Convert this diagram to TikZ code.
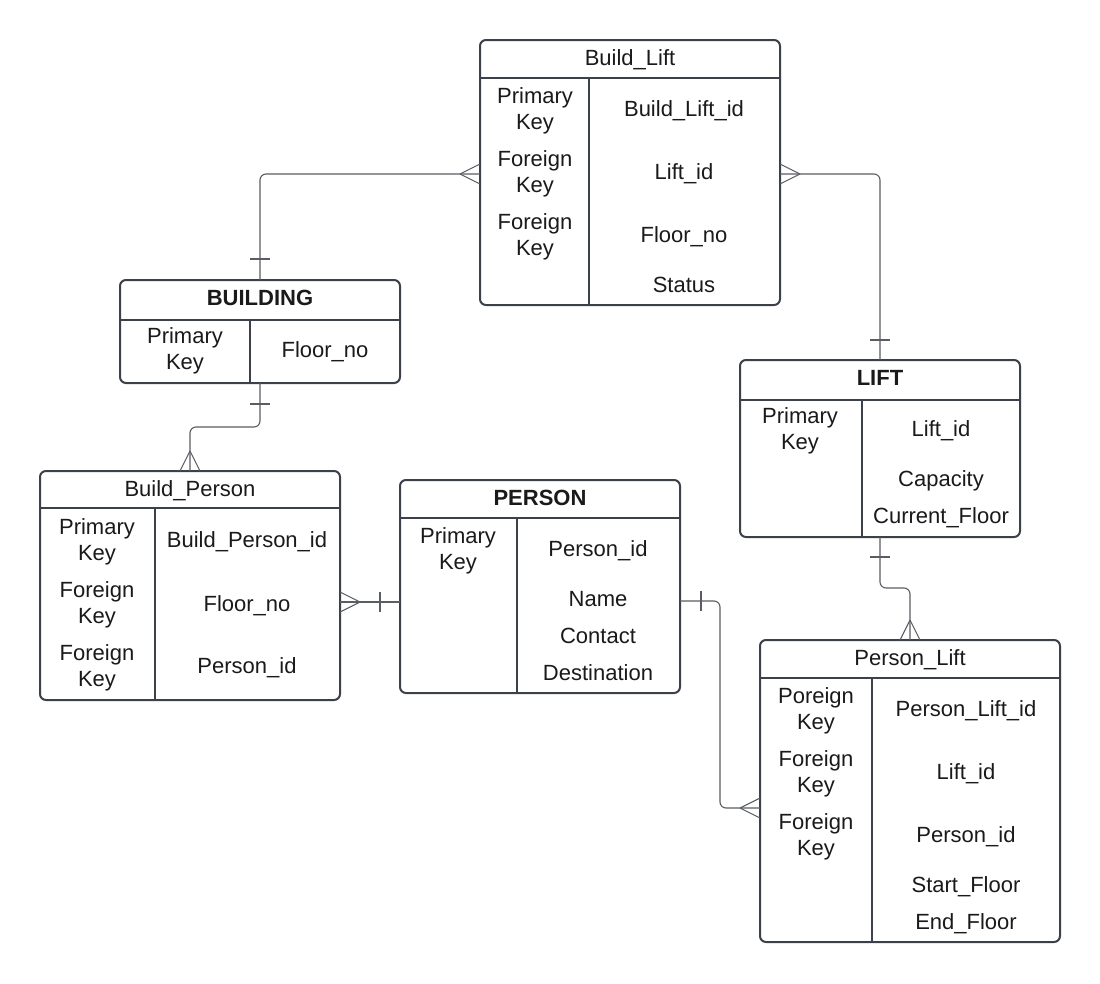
\documentclass[tikz,border=0pt]{standalone}
\usepackage{fontspec}
\setmainfont{Liberation Sans}
\usetikzlibrary{calc}
\definecolor{boxc}{HTML}{3C4048}
\definecolor{linec}{HTML}{5A5D63}
\definecolor{txtc}{HTML}{1A1A1A}
\begin{document}
\begin{tikzpicture}[x=1pt,y=-1pt,
  tbl/.style={draw=boxc, line width=2pt, rounded corners=6pt, inner sep=0pt, outer sep=0pt, fill=white},
  tline/.style={draw=boxc, line width=2pt},
  conn/.style={draw=linec, line width=1.1pt, rounded corners=6pt},
  mk/.style={draw=linec, line width=1.1pt},
  tx/.style={font=\fontsize{22}{26}\selectfont, text=txtc, inner sep=0pt, anchor=base},
  hb/.style={font=\fontsize{22}{26}\selectfont\bfseries, text=txtc, inner sep=0pt, anchor=base}]
\useasboundingbox[fill=white] (0,0) rectangle (1100,983);

% ---------- tables ----------
\node[tbl, minimum width=300pt, minimum height=265pt] (bl) at (630,172.5) {};
\draw[tline] (480,78) -- (780,78);
\draw[tline] (589,78) -- (589,305);

\node[tbl, minimum width=280pt, minimum height=103pt] (bld) at (260,331.5) {};
\draw[tline] (120,320) -- (400,320);
\draw[tline] (250,320) -- (250,383);

\node[tbl, minimum width=280pt, minimum height=177pt] (lift) at (880,448.5) {};
\draw[tline] (740,400) -- (1020,400);
\draw[tline] (862,400) -- (862,537);

\node[tbl, minimum width=300pt, minimum height=229pt] (bp) at (190,585.5) {};
\draw[tline] (40,508) -- (340,508);
\draw[tline] (155,508) -- (155,700);

\node[tbl, minimum width=280pt, minimum height=213pt] (ps) at (540,586.5) {};
\draw[tline] (400,518) -- (680,518);
\draw[tline] (517,518) -- (517,693);

\node[tbl, minimum width=300pt, minimum height=302pt] (pl) at (910,791) {};
\draw[tline] (760,678) -- (1060,678);
\draw[tline] (872,678) -- (872,942);

% ---------- texts ----------
% Build_Lift
\node[tx] (blh) at (630,65) {Build\_Lift};
\node[tx] (bl1a) at (535,103) {Primary};
\node[tx] (bl1b) at (535,129) {Key};
\node[tx] (bl2a) at (535,166) {Foreign};
\node[tx] (bl2b) at (535,192) {Key};
\node[tx] (bl3a) at (535,229) {Foreign};
\node[tx] (bl3b) at (535,255) {Key};
\node[tx] (bl1) at (684,116) {Build\_Lift\_id};
\node[tx] (bl2) at (684,179) {Lift\_id};
\node[tx] (bl3) at (684,242) {Floor\_no};
\node[tx] (bl4) at (684,292) {Status};
% BUILDING
\node[hb] (bldh) at (260,305) {BUILDING};
\node[tx] (bld1a) at (185,343) {Primary};
\node[tx] (bld1b) at (185,369) {Key};
\node[tx] (bld1) at (325,357) {Floor\_no};
% LIFT
\node[hb] (lifth) at (880,385) {LIFT};
\node[tx] (lift1a) at (800,423) {Primary};
\node[tx] (lift1b) at (800,449) {Key};
\node[tx] (lift1) at (941,436) {Lift\_id};
\node[tx] (lift2) at (941,486) {Capacity};
\node[tx] (lift3) at (941,523) {Current\_Floor};
% Build_Person
\node[tx] (bph) at (190,496) {Build\_Person};
\node[tx] (bp1a) at (97,534) {Primary};
\node[tx] (bp1b) at (97,560) {Key};
\node[tx] (bp2a) at (97,597) {Foreign};
\node[tx] (bp2b) at (97,623) {Key};
\node[tx] (bp3a) at (97,660) {Foreign};
\node[tx] (bp3b) at (97,686) {Key};
\node[tx] (bp1) at (247,547) {Build\_Person\_id};
\node[tx] (bp2) at (247,611) {Floor\_no};
\node[tx] (bp3) at (247,673) {Person\_id};
% PERSON
\node[hb] (psh) at (540,505) {PERSON};
\node[tx] (ps1a) at (458,543) {Primary};
\node[tx] (ps1b) at (458,569) {Key};
\node[tx] (ps1) at (598,556) {Person\_id};
\node[tx] (ps2) at (598,606) {Name};
\node[tx] (ps3) at (598,643) {Contact};
\node[tx] (ps4) at (598,680) {Destination};
% Person_Lift
\node[tx] (plh) at (910,665) {Person\_Lift};
\node[tx] (pl1a) at (816,703) {Poreign};
\node[tx] (pl1b) at (816,729) {Key};
\node[tx] (pl2a) at (816,766) {Foreign};
\node[tx] (pl2b) at (816,792) {Key};
\node[tx] (pl3a) at (816,829) {Foreign};
\node[tx] (pl3b) at (816,855) {Key};
\node[tx] (pl1) at (966,716) {Person\_Lift\_id};
\node[tx] (pl2) at (966,779) {Lift\_id};
\node[tx] (pl3) at (966,842) {Person\_id};
\node[tx] (pl4) at (966,892) {Start\_Floor};
\node[tx] (pl5) at (966,929) {End\_Floor};

% ---------- connectors ----------
% Build_Lift -- BUILDING
\coordinate (blw) at ([yshift=-1.5pt]bl.west);
\draw[conn] (blw) -| (bld.north);
\draw[mk] ([xshift=-20pt]blw) -- ([yshift=10pt]blw)
          ([xshift=-20pt]blw) -- ([yshift=-10pt]blw);
\draw[mk] ([xshift=-10pt,yshift=21pt]bld.north) -- ([xshift=10pt,yshift=21pt]bld.north);
% Build_Lift -- LIFT
\coordinate (ble) at ([yshift=-1.5pt]bl.east);
\draw[conn] (ble) -| (lift.north);
\draw[mk] ([xshift=20pt]ble) -- ([yshift=10pt]ble)
          ([xshift=20pt]ble) -- ([yshift=-10pt]ble);
\draw[mk] ([xshift=-10pt,yshift=20pt]lift.north) -- ([xshift=10pt,yshift=20pt]lift.north);
% BUILDING -- Build_Person
\draw[conn] (bld.south) -- ++(0,44) -| (bp.north);
\draw[mk] ([xshift=-10pt,yshift=-21pt]bld.south) -- ([xshift=10pt,yshift=-21pt]bld.south);
\draw[mk] ([yshift=20pt]bp.north) -- ([xshift=-10pt]bp.north)
          ([yshift=20pt]bp.north) -- ([xshift=10pt]bp.north);
% Build_Person -- PERSON
\coordinate (bpe) at ([yshift=-16.5pt]bp.east);
\draw[conn] (bpe) -- (bpe -| ps.west);
\draw[mk] ([xshift=20pt]bpe) -- ([yshift=10pt]bpe)
          ([xshift=20pt]bpe) -- ([yshift=-10pt]bpe);
\draw[mk] ([xshift=40pt,yshift=10pt]bpe) -- ([xshift=40pt,yshift=-10pt]bpe);
% PERSON -- Person_Lift
\coordinate (pse) at ([yshift=-14.5pt]ps.east);
\coordinate (plw) at ([yshift=-17pt]pl.west);
\draw[conn] (pse) -- ++(40,0) |- (plw);
\draw[mk] ([xshift=21pt,yshift=10pt]pse) -- ([xshift=21pt,yshift=-10pt]pse);
\draw[mk] ([xshift=-20pt]plw) -- ([yshift=10pt]plw)
          ([xshift=-20pt]plw) -- ([yshift=-10pt]plw);
% LIFT -- Person_Lift
\draw[conn] (lift.south) -- ++(0,51) -| (pl.north);
\draw[mk] ([xshift=-10pt,yshift=-20pt]lift.south) -- ([xshift=10pt,yshift=-20pt]lift.south);
\draw[mk] ([yshift=20pt]pl.north) -- ([xshift=-10pt]pl.north)
          ([yshift=20pt]pl.north) -- ([xshift=10pt]pl.north);
\end{tikzpicture}
\end{document}
